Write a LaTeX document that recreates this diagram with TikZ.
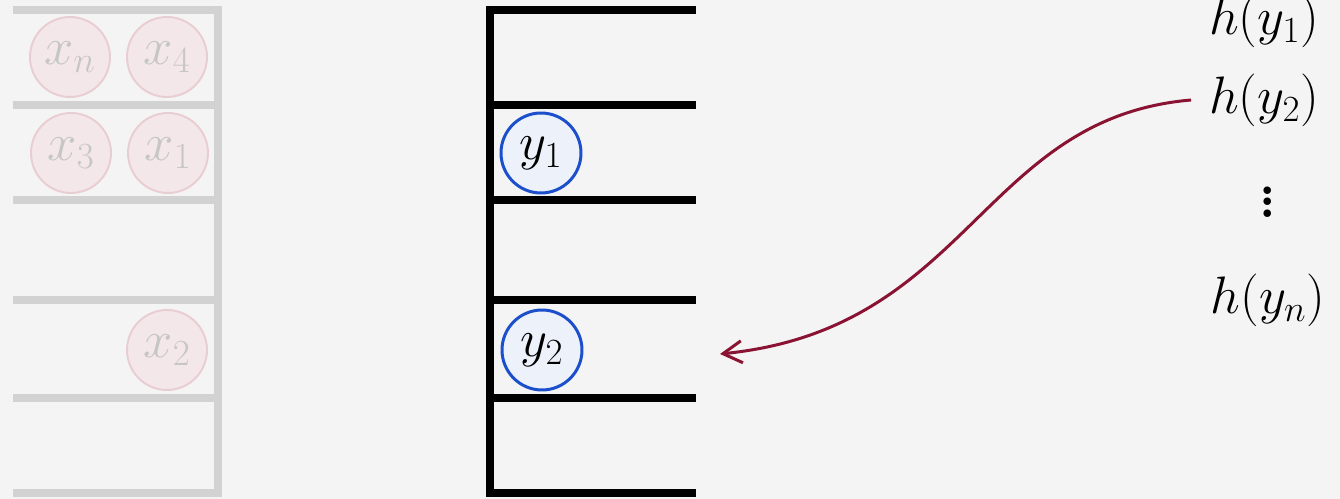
\documentclass[tikz,border=0pt]{standalone}
\usepackage{fix-cm}
\usetikzlibrary{arrows.meta,positioning}
\definecolor{bgpaper}{HTML}{F4F4F4}
\definecolor{ghostline}{HTML}{D2D2D2}
\definecolor{ghostfill}{HTML}{F4E7EA}
\definecolor{ghostdraw}{HTML}{E8CDD3}
\definecolor{ghosttext}{HTML}{C6C6C6}
\definecolor{keyfill}{HTML}{EDF1FA}
\definecolor{keydraw}{HTML}{1C4FCC}
\definecolor{probe}{HTML}{8A1232}
\newcommand{\tallvdots}{\vbox{\bfseries\baselineskip=6.5pt\lineskiplimit=0pt
  \hbox{.}\hbox{.}\hbox{.}}}
\tikzset{
  >={Straight Barb[length=3.8mm,width=4.4mm]},
  bigmath/.style={font=\fontsize{30}{36}\selectfont},
  oldcell/.style={draw=ghostline,line width=4pt,line join=miter},
  newcell/.style={draw=black,line width=4pt,line join=miter},
  oldkey/.style={circle,draw=ghostdraw,fill=ghostfill,line width=1.1pt,
    minimum size=1.6cm,inner sep=0pt,text=ghosttext,bigmath},
  newkey/.style={circle,draw=keydraw,fill=keyfill,line width=1.7pt,
    minimum size=1.6cm,inner sep=0pt,bigmath},
  hashlbl/.style={bigmath,inner ysep=2pt,inner xsep=10pt},
  probeline/.style={->,draw=probe,line width=1.7pt},
}
\begin{document}
\begin{tikzpicture}[x=0.02cm,y=-0.02cm]
  \fill[bgpaper] (0,0) rectangle (1340,499);
  \useasboundingbox (0,0) rectangle (1340,499);
  % old table, faded
  \foreach \top/\bot in {10/105,105/200,200/300,300/398,398/493}
    \draw[oldcell] (13,\top) -- (218,\top) -- (218,\bot) -- (13,\bot);
  \node[oldkey] (xn) at (70,57) {$x_n$};
  \node[oldkey] (x4) at (167,57) {$x_4$};
  \node[oldkey] (x3) at (71,153) {$x_3$};
  \node[oldkey] (x1) at (168,153) {$x_1$};
  \node[oldkey] (x2) at (167,350) {$x_2$};
  % new table
  \foreach \top/\bot in {10/105,105/200,200/300,300/398,398/493}
    \draw[newcell] (696,\top) -- (490,\top) -- (490,\bot) -- (696,\bot);
  \node[newkey] (y1) at (541,153) {$y_1$};
  \node[newkey] (y2) at (542,350) {$y_2$};
  % hash values
  \node[hashlbl] (hy1) at (1264,21) {$h(y_1)$};
  \node[hashlbl] (hy2) at (1264,100) {$h(y_2)$};
  \node[hashlbl] (hdots) at (1268,202) {\tallvdots};
  \node[hashlbl] (hyn) at (1268,300) {$h(y_n)$};
  \coordinate (slot2) at (720,354);
  \draw[probeline] (hy2.west) .. controls +(-210,18) and +(250,-25) .. (slot2);
\end{tikzpicture}
\end{document}
